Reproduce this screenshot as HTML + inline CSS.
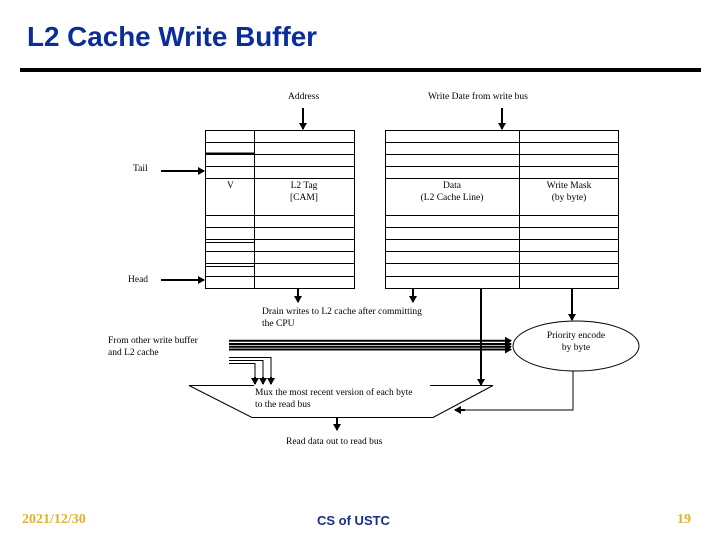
<!DOCTYPE html>
<html><head><meta charset="utf-8"><style>
html,body{margin:0;padding:0;background:#fff;}
svg{display:block;}
.s{font-family:"Liberation Serif",serif;font-size:9.5px;fill:#000;}
</style></head><body>
<svg width="720" height="540" viewBox="0 0 720 540" xmlns="http://www.w3.org/2000/svg">
<defs>
<marker id="a" markerWidth="8" markerHeight="8" refX="6" refY="4" orient="auto" markerUnits="userSpaceOnUse">
<path d="M0,0 L7,4 L0,8 z" fill="#000"/></marker>
</defs>
<text x="27" y="46" font-family="Liberation Sans,sans-serif" font-weight="bold" font-size="27.5" fill="#0a2d9a" textLength="290" lengthAdjust="spacingAndGlyphs">L2 Cache Write Buffer</text>
<rect x="20" y="68" width="681" height="4" fill="#000"/>

<g stroke="#000" stroke-width="1" fill="none">
<rect x="205.5" y="130.5" width="149" height="158"/>
<line x1="254.5" y1="130" x2="254.5" y2="289"/>
<rect x="385.5" y="130.5" width="233" height="158"/>
<line x1="519.5" y1="130" x2="519.5" y2="289"/>
<path d="M205,142.5H355M205,154.5H355M205,166.5H355M205,178.5H355M205,215.5H355M205,227.5H355M205,239.5H355M205,251.5H355M205,263.5H355M205,276.5H355"/>
<path d="M385,142.5H619M385,154.5H619M385,166.5H619M385,178.5H619M385,215.5H619M385,227.5H619M385,239.5H619M385,251.5H619M385,263.5H619M385,276.5H619"/>
<path d="M205,242.5H254M205,266.5H254"/>
<line x1="205" y1="153.5" x2="254" y2="153.5" stroke-width="2"/>
</g>

<g stroke="#000" stroke-width="2" fill="none">
<line x1="303" y1="108" x2="303" y2="129" marker-end="url(#a)"/>
<line x1="502" y1="108" x2="502" y2="129" marker-end="url(#a)"/>
<line x1="161" y1="171" x2="204" y2="171" marker-end="url(#a)"/>
<line x1="161" y1="280" x2="204" y2="280" marker-end="url(#a)"/>
<line x1="298" y1="289" x2="298" y2="302" marker-end="url(#a)"/>
<line x1="413" y1="289" x2="413" y2="302" marker-end="url(#a)"/>
<line x1="481" y1="289" x2="481" y2="385" marker-end="url(#a)"/>
<line x1="572" y1="289" x2="572" y2="320" marker-end="url(#a)"/>
<line x1="229" y1="340.7" x2="511" y2="340.7" marker-end="url(#a)"/>
<line x1="229" y1="344" x2="511" y2="344" marker-end="url(#a)"/>
<line x1="229" y1="346.7" x2="511" y2="346.7" marker-end="url(#a)"/>
<line x1="229" y1="349.5" x2="511" y2="349.5" marker-end="url(#a)"/>
<line x1="337" y1="418" x2="337" y2="430" marker-end="url(#a)"/>
<polyline points="573,371 573,410 455,410" stroke-width="1"/>
<line x1="465" y1="410" x2="455" y2="410" marker-end="url(#a)"/>
</g>
<g stroke="#000" stroke-width="1" fill="none">
<polyline points="229,357.5 271,357.5 271,383"/>
<polyline points="229,360.5 263,360.5 263,383"/>
<polyline points="229,363.5 255,363.5 255,383"/>
</g>
<g stroke="#000" stroke-width="2">
<line x1="271" y1="377" x2="271" y2="384" marker-end="url(#a)"/>
<line x1="263" y1="377" x2="263" y2="384" marker-end="url(#a)"/>
<line x1="255" y1="377" x2="255" y2="384" marker-end="url(#a)"/>
</g>
<polygon points="189,385.5 493,385.5 433,417.5 252,417.5" fill="none" stroke="#000" stroke-width="1"/>
<ellipse cx="576" cy="346" rx="63" ry="25" fill="#fff" stroke="#000" stroke-width="1"/>

<rect x="254" y="385" width="176" height="24" fill="#fff"/>
<g class="s">
<text x="288" y="99">Address</text>
<text x="428" y="99">Write Date from write bus</text>
<text x="133" y="171">Tail</text>
<text x="128" y="282">Head</text>
<text x="227" y="188">V</text>
<text x="304" y="188" text-anchor="middle">L2 Tag</text>
<text x="304" y="200" text-anchor="middle">[CAM]</text>
<text x="452" y="188" text-anchor="middle">Data</text>
<text x="452" y="200" text-anchor="middle">(L2 Cache Line)</text>
<text x="569" y="188" text-anchor="middle">Write Mask</text>
<text x="569" y="200" text-anchor="middle">(by byte)</text>
<text x="262" y="314">Drain writes to L2 cache after committing</text>
<text x="262" y="326">the CPU</text>
<text x="108" y="343">From other write buffer</text>
<text x="108" y="355">and L2 cache</text>
<text x="576" y="338" text-anchor="middle">Priority encode</text>
<text x="576" y="350" text-anchor="middle">by byte</text>
<text x="255" y="395">Mux the most recent version of each byte</text>
<text x="255" y="407">to the read bus</text>
<text x="286" y="444">Read data out to read bus</text>
</g>

<text x="22" y="523" font-family="Liberation Serif,serif" font-weight="bold" font-size="14" fill="#e0b030">2021/12/30</text>
<text x="317" y="525" font-family="Liberation Sans,sans-serif" font-weight="bold" font-size="13" fill="#1a2d8a">CS of USTC</text>
<text x="677" y="523" font-family="Liberation Serif,serif" font-weight="bold" font-size="14" fill="#e0b030">19</text>
</svg>
</body></html>
